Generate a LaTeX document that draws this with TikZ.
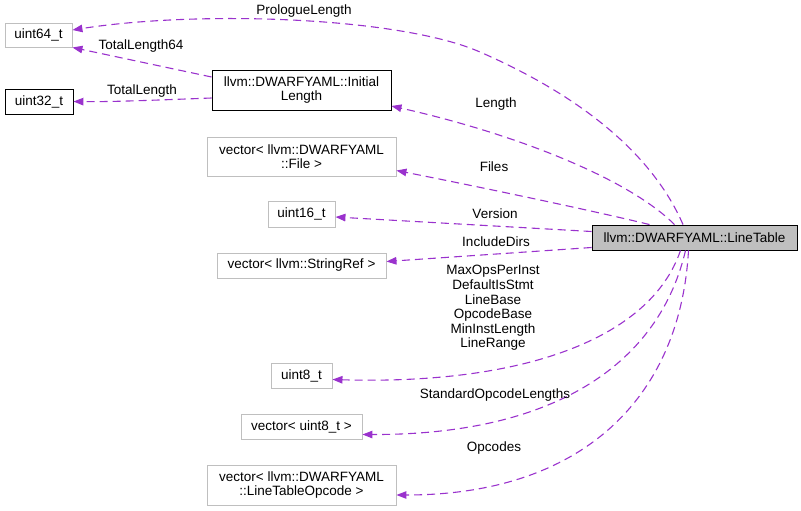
\documentclass[tikz,border=0pt]{standalone}
\usepackage{fontspec}
\setmainfont{Liberation Sans}
\usetikzlibrary{arrows.meta}
\definecolor{edgec}{HTML}{9A32CD}
\definecolor{grayb}{HTML}{BFBFBF}
\begin{document}
\begin{tikzpicture}[x=1pt,y=-1pt,
  every node/.style={font=\fontsize{13.5}{14.6}\selectfont, inner sep=0pt, align=center},
  gbox/.style={draw=grayb, line width=0.9pt, fill=white},
  bbox/.style={draw=black, line width=0.9pt, fill=white},
  mainbox/.style={draw=black, line width=0.9pt, fill=grayb},
  conn/.style={draw=edgec, line width=1.1pt, dash pattern=on 8pt off 5pt, -{Triangle[length=10pt,width=7.5pt]}},
  lbl/.style={}]
\useasboundingbox (0,0) rectangle (801,511);
% nodes
\node[gbox, minimum width=67pt, minimum height=24pt] (u64) at (38.5,35) {uint64\_t};
\node[bbox, minimum width=68pt, minimum height=25pt] (u32) at (39,101.5) {uint32\_t};
\node[bbox, minimum width=179pt, minimum height=40pt] (init) at (301.5,90) {llvm::DWARFYAML::Initial\\Length};
\node[gbox, minimum width=189pt, minimum height=39pt] (file) at (301.5,156.5) {vector\textless{} llvm::DWARFYAML\\::File \textgreater};
\node[gbox, minimum width=67pt, minimum height=26pt] (u16) at (301.5,214) {uint16\_t};
\node[gbox, minimum width=169pt, minimum height=25pt] (sref) at (301.5,265.5) {vector\textless{} llvm::StringRef \textgreater};
\node[mainbox, minimum width=205pt, minimum height=25pt] (lt) at (694.5,237.5) {llvm::DWARFYAML::LineTable};
\node[gbox, minimum width=61pt, minimum height=25pt] (u8) at (301.5,375.5) {uint8\_t};
\node[gbox, minimum width=121pt, minimum height=25pt] (vu8) at (301.5,426.5) {vector\textless{} uint8\_t \textgreater};
\node[gbox, minimum width=189pt, minimum height=40pt] (lto) at (301.5,485) {vector\textless{} llvm::DWARFYAML\\::LineTableOpcode \textgreater};
% connectors
\draw[conn] ([xshift=-11.5pt]lt.north) .. controls (655,160) and (590,100) .. (480,52)
  .. controls (400,17) and (200,10) .. ([yshift=5pt]u64.east);
\draw[conn] ([yshift=13pt]init.west) -- (u64.south east);
\draw[conn] ([yshift=-8pt]init.west) .. controls (160,100) and (110,102) .. (u32.east);
\draw[conn] ([xshift=-20pt]lt.north) .. controls (630,180) and (520,135) .. ([yshift=-16pt]init.east);
\draw[conn] ([xshift=-45pt]lt.north) .. controls (590,210) and (470,185) .. ([yshift=-14pt]file.east);
\draw[conn] ([yshift=6pt]lt.west) -- ([yshift=-3pt]u16.east);
\draw[conn] ([yshift=-10pt]lt.west) -- ([yshift=4pt]sref.east);
\draw[conn] ([xshift=-14pt]lt.south) .. controls (650,340) and (520,385) .. ([yshift=-4pt]u8.east);
\draw[conn] ([xshift=-9pt]lt.south) .. controls (660,360) and (560,435) .. ([yshift=-8pt]vu8.east);
\draw[conn] ([xshift=-6pt]lt.south) .. controls (680,400) and (580,495) .. ([yshift=-10pt]lto.east);
% labels
\node[lbl] (lpro) at (304,11) {PrologueLength};
\node[lbl] (ltl64) at (141,46) {TotalLength64};
\node[lbl] (ltl) at (142,91) {TotalLength};
\node[lbl] (llen) at (496,104) {Length};
\node[lbl] (lfiles) at (494,167) {Files};
\node[lbl] (lver) at (495,214) {Version};
\node[lbl] (linc) at (496,242) {IncludeDirs};
\node[lbl] (lmulti) at (493,308) {MaxOpsPerInst\\DefaultIsStmt\\LineBase\\OpcodeBase\\MinInstLength\\LineRange};
\node[lbl] (lstd) at (495,395) {StandardOpcodeLengths};
\node[lbl] (lops) at (494,448) {Opcodes};
\end{tikzpicture}
\end{document}
